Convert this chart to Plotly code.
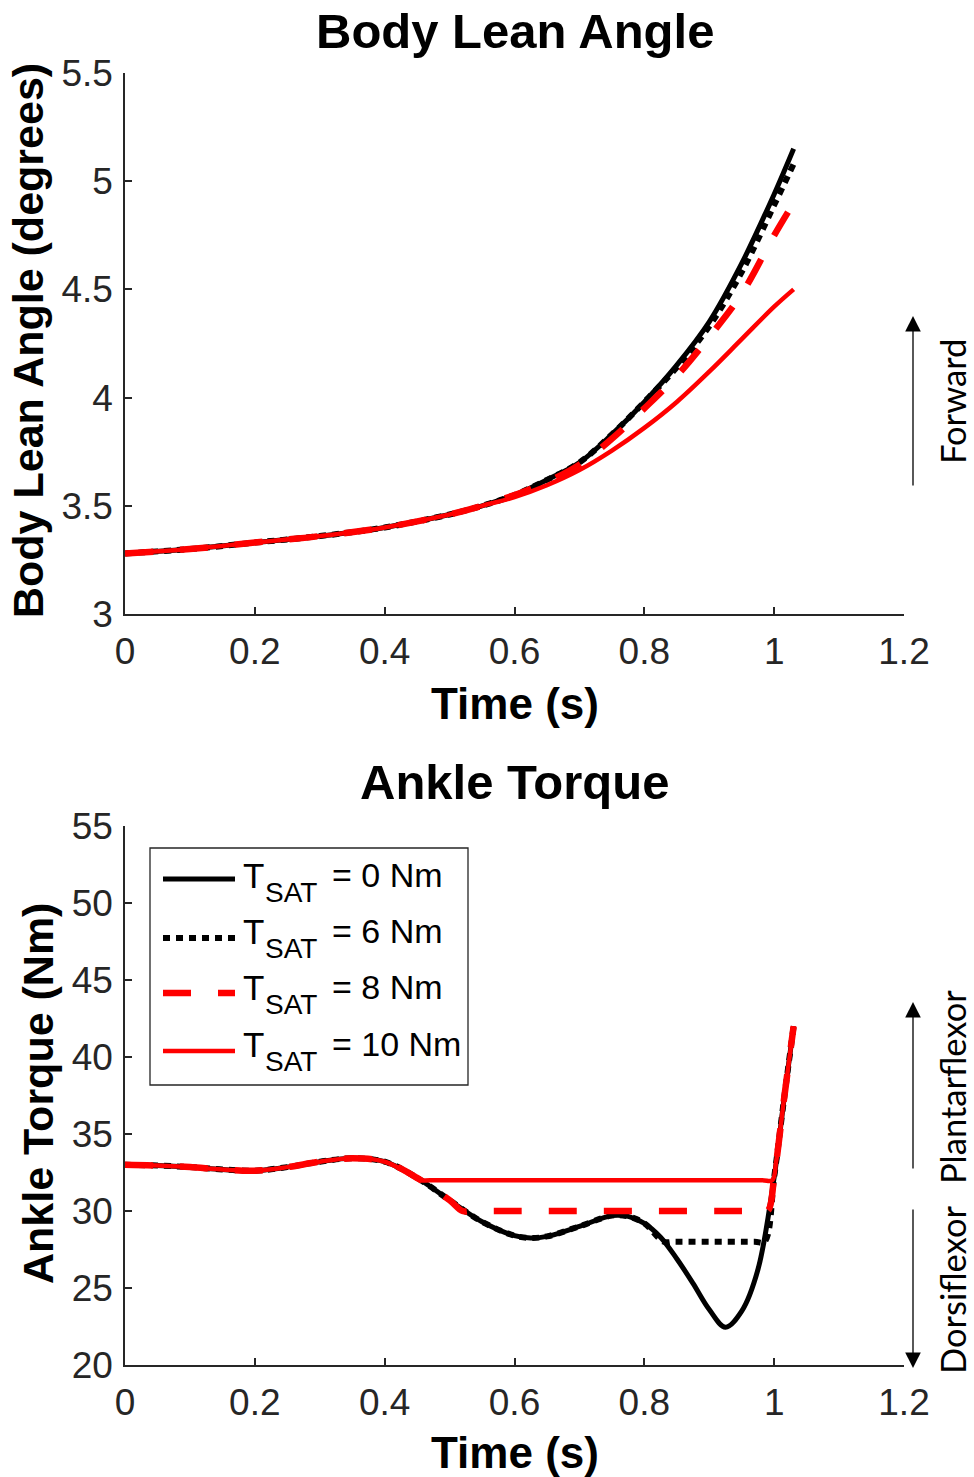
import plotly.graph_objects as go

# ---------------- data ----------------
# Body lean angle (degrees) vs time (s)
T_TOP = [0, 0.1, 0.2, 0.3, 0.4, 0.5, 0.55, 0.6, 0.65, 0.7, 0.75, 0.8, 0.85, 0.9, 0.95, 1.0, 1.03]
LEAN_0 = [3.28, 3.30, 3.33, 3.36, 3.40, 3.46, 3.50, 3.55, 3.62, 3.70, 3.83, 3.98, 4.15, 4.35, 4.62, 4.94, 5.15]
LEAN_6 = [3.28, 3.30, 3.33, 3.36, 3.40, 3.46, 3.50, 3.55, 3.62, 3.70, 3.83, 3.98, 4.14, 4.33, 4.58, 4.89, 5.08]
LEAN_8 = [3.28, 3.30, 3.33, 3.36, 3.40, 3.46, 3.50, 3.55, 3.61, 3.69, 3.81, 3.95, 4.10, 4.28, 4.48, 4.75, 4.90]
LEAN_10 = [3.28, 3.30, 3.33, 3.36, 3.40, 3.46, 3.50, 3.54, 3.595, 3.665, 3.755, 3.86, 3.98, 4.12, 4.27, 4.42, 4.50]

# Ankle torque (Nm) vs time (s)
T_TQ_0 = [0, 0.05, 0.1, 0.15, 0.2, 0.25, 0.3, 0.35, 0.4, 0.45, 0.5, 0.55, 0.6, 0.625, 0.65, 0.7,
          0.75, 0.775, 0.8, 0.825, 0.85, 0.875, 0.9, 0.925, 0.95, 0.975, 1.0, 1.015, 1.03]
TQ_0 = [33.0, 32.95, 32.85, 32.7, 32.62, 32.85, 33.2, 33.42, 33.2, 32.15, 30.7, 29.3, 28.4, 28.25, 28.35, 29.0,
        29.7, 29.65, 29.2, 28.3, 26.9, 25.3, 23.6, 22.45, 23.5, 26.2, 32.2, 37.2, 42.0]

T_TQ_6 = [0, 0.05, 0.1, 0.15, 0.2, 0.25, 0.3, 0.35, 0.4, 0.45, 0.5, 0.55, 0.6, 0.625, 0.65, 0.7,
          0.75, 0.775, 0.8, 0.83, 0.845, 0.97, 0.985, 1.0, 1.015, 1.03]
TQ_6 = [33.0, 32.95, 32.85, 32.7, 32.62, 32.85, 33.2, 33.42, 33.2, 32.15, 30.7, 29.3, 28.4, 28.25, 28.35, 29.0,
        29.7, 29.65, 29.2, 28.0, 28.0, 28.0, 28.0, 32.2, 37.2, 42.0]

T_TQ_8 = [0, 0.05, 0.1, 0.15, 0.2, 0.25, 0.3, 0.35, 0.4, 0.45, 0.5, 0.52, 0.535, 0.975, 0.99, 1.0, 1.015, 1.03]
TQ_8 = [33.0, 32.95, 32.85, 32.7, 32.62, 32.85, 33.2, 33.42, 33.2, 32.15, 30.7, 30.0, 30.0, 30.0, 30.0, 32.2, 37.2, 42.0]

T_TQ_10 = [0, 0.05, 0.1, 0.15, 0.2, 0.25, 0.3, 0.35, 0.4, 0.43, 0.455, 0.47, 0.98, 0.997, 1.003, 1.015, 1.03]
TQ_10 = [33.0, 32.95, 32.85, 32.7, 32.62, 32.85, 33.2, 33.42, 33.2, 32.6, 32.0, 32.0, 32.0, 32.0, 33.2, 37.2, 42.0]

SAT_VALUES = ["0", "6", "8", "10"]
X_TICKS = [0, 0.2, 0.4, 0.6, 0.8, 1.0, 1.2]
Y_TICKS_TOP = [3, 3.5, 4, 4.5, 5, 5.5]
Y_TICKS_BOT = [20, 25, 30, 35, 40, 45, 50, 55]

# ---------------- styles ----------------
STYLES = [
    dict(color="#000000", width=5, dash="solid"),
    dict(color="#000000", width=6, dash="7px,6px"),
    dict(color="#FF0000", width=6.5, dash="28px,27px"),
    dict(color="#FF0000", width=4.5, dash="solid"),
]
AX = "#262626"
FONT = "Liberation Sans, Arial, sans-serif"
SIDE_FONT = "Lato, Carlito, sans-serif"

fig = go.Figure()
top_sets = [(T_TOP, LEAN_0), (T_TOP, LEAN_6), (T_TOP, LEAN_8), (T_TOP, LEAN_10)]
bot_sets = [(T_TQ_0, TQ_0), (T_TQ_6, TQ_6), (T_TQ_8, TQ_8), (T_TQ_10, TQ_10)]
for (t, v), st, v_sat in zip(top_sets, STYLES, SAT_VALUES):
    fig.add_trace(go.Scatter(x=t, y=v, mode="lines", name=f"T_SAT = {v_sat} Nm", showlegend=False,
                             line=dict(shape="spline", smoothing=1, **st), xaxis="x", yaxis="y"))
for (t, v), st, v_sat in zip(bot_sets, STYLES, SAT_VALUES):
    fig.add_trace(go.Scatter(x=t, y=v, mode="lines", name=f"T_SAT = {v_sat} Nm", showlegend=False,
                             line=dict(shape="spline", smoothing=1, **st), xaxis="x2", yaxis="y2"))

# plot area geometry (pixels)
L, R, T, B = 125, 70, 73, 112
W, H = 974, 1477
PW, PH = W - L - R, H - T - B
def py(ypix):
    return (H - B - ypix) / PH
def px(xpix):
    return (xpix - L) / PW

axis_common = dict(showline=True, linecolor=AX, linewidth=1.5, ticks="inside", ticklen=7, tickwidth=1.5,
                   tickcolor=AX, showgrid=False, zeroline=False, mirror=False,
                   tickfont=dict(family=FONT, size=37, color=AX))

fig.update_layout(
    width=W, height=H, margin=dict(l=L, r=R, t=T, b=B, pad=0),
    paper_bgcolor="white", plot_bgcolor="white", showlegend=False,
    xaxis=dict(domain=[0, 1], anchor="y", range=[0, 1.2], tickvals=X_TICKS,
               ticktext=[f"{v:g}" for v in X_TICKS], ticklabelstandoff=4, **axis_common),
    yaxis=dict(domain=[py(614), 1], anchor="x", range=[3, 5.5], tickvals=Y_TICKS_TOP,
               ticktext=[f"{v:g}" for v in Y_TICKS_TOP], ticklabelstandoff=3, **axis_common),
    xaxis2=dict(domain=[0, 1], anchor="y2", range=[0, 1.2], tickvals=X_TICKS,
                ticktext=[f"{v:g}" for v in X_TICKS], ticklabelstandoff=4, **axis_common),
    yaxis2=dict(domain=[0, py(826)], anchor="x2", range=[20, 55], tickvals=Y_TICKS_BOT,
                ticktext=[f"{v:g}" for v in Y_TICKS_BOT], ticklabelstandoff=3, **axis_common),
)

ann = []
def text(x, y, s, size, bold=False, angle=0, family=FONT, color="black", xanchor="center", xref="paper", yref="paper"):
    ann.append(dict(x=x, y=y, xref=xref, yref=yref, text=f"<b>{s}</b>" if bold else s, showarrow=False,
                    font=dict(family=family, size=size, color=color), textangle=angle,
                    xanchor=xanchor, yanchor="middle", borderpad=0))

# titles and axis labels
text(0.5, py(31), "Body Lean Angle", 49, bold=True)
text(0.5, py(782), "Ankle Torque", 49, bold=True)
text(0.5, py(703), "Time (s)", 44, bold=True)
text(0.5, py(1453), "Time (s)", 44, bold=True)
text(px(28), py(341), "Body Lean Angle (degrees)", 43, bold=True, angle=-90)
text(px(38), py(1094), "Ankle Torque (Nm)", 43, bold=True, angle=-90)

# side direction annotations
text(px(952), py(401), "Forward", 34.5, angle=-90, family=SIDE_FONT)
text(px(952), py(1087), "Plantarflexor", 34.5, angle=-90, family=SIDE_FONT)
text(px(952), py(1289), "Dorsiflexor", 34.5, angle=-90, family=SIDE_FONT)

def arrow(x, yhead, ytail):
    ann.append(dict(x=px(x), y=py(yhead), xref="paper", yref="paper", ax=0, ay=ytail - yhead,
                    text="", showarrow=True, arrowhead=2, arrowsize=2.4, arrowwidth=1.3, arrowcolor="black"))
arrow(913, 316, 487)
arrow(913, 1002, 1170)
arrow(913, 1368, 1208)

# manual legend (inside lower axes)
def dx(xpix):
    return (xpix - 125) / 779
def dy(ypix):
    return (1365 - ypix) / 539
shapes = [dict(type="rect", xref="x2 domain", yref="y2 domain", x0=dx(150), x1=dx(468), y0=dy(1085), y1=dy(848),
               line=dict(color=AX, width=1.3), fillcolor="white", layer="above")]
leg_line_y = [879, 938, 993, 1051]
leg_base_y = [887, 943, 999, 1056]
for ly, by, st, v_sat in zip(leg_line_y, leg_base_y, STYLES, SAT_VALUES):
    shapes.append(dict(type="line", xref="x2 domain", yref="y2 domain", x0=dx(163), x1=dx(235), y0=dy(ly), y1=dy(ly),
                       line=dict(color=st["color"], width=st["width"], dash=st["dash"]), layer="above"))
    text(dx(242), dy(by - 12), "T", 35, xanchor="left", xref="x2 domain", yref="y2 domain")
    text(dx(264), dy(by + 15 - 10), "SAT", 28, xanchor="left", xref="x2 domain", yref="y2 domain")
    text(dx(331), dy(by - 12), f"= {v_sat} Nm", 34, xanchor="left", xref="x2 domain", yref="y2 domain")

fig.update_layout(annotations=ann, shapes=shapes)
fig.write_html("out.html")
